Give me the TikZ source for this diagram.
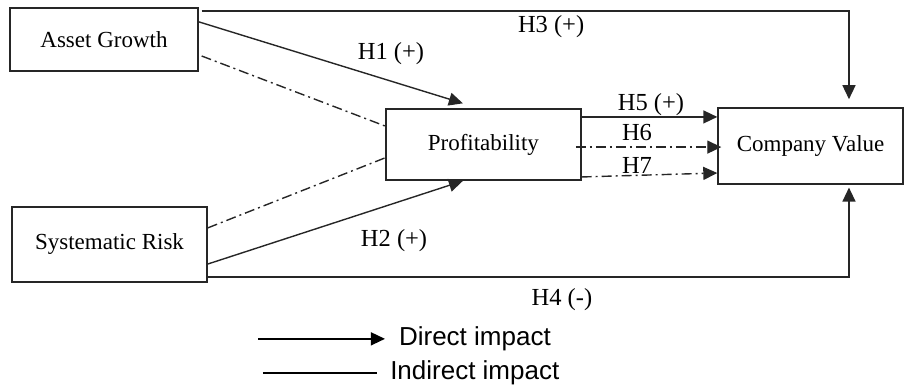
\documentclass[tikz,border=0pt]{standalone}
\usepackage{fontspec}
\setmainfont{Liberation Serif}
\newfontfamily\legfont{Liberation Sans}
\usetikzlibrary{positioning}
\usetikzlibrary{calc}
\usetikzlibrary{arrows.meta}
\tikzset{
    varbox/.style={draw=black!85, line width=1.6pt, inner sep=0pt, font=\fontsize{23}{27}\selectfont},
    link/.style={line width=1.4pt, draw=black!85},
    dashdot/.style={link, dash pattern=on 10pt off 4pt on 2pt off 4pt},
    hyplab/.style={font=\fontsize{24.5}{28}\selectfont, inner sep=1pt},
    legtext/.style={font=\legfont\fontsize{26}{30}\selectfont, inner sep=0pt, anchor=west}
}

\begin{document}
\begin{tikzpicture}[>={Triangle[length=14pt, width=13pt]}]
    \useasboundingbox (0,0) rectangle (32.02,-13.53);

    % Variables
    \node[varbox, minimum width=6.61cm, minimum height=2.21cm] (ag) at (3.655, -1.388) {Asset Growth};
    \node[varbox, minimum width=6.85cm, minimum height=2.64cm] (sr) at (3.85, -8.59) {Systematic Risk};
    \node[varbox, minimum width=6.85cm, minimum height=2.50cm] (prof) at (16.99, -5.08) {Profitability};
    \node[varbox, minimum width=6.50cm, minimum height=2.67cm] (cv) at (28.49, -5.13) {Company Value};

    % Hypothesis labels
    \node[hyplab] (h1) at (13.74, -1.88) {H1 (+)};
    \node[hyplab] (h2) at (13.85, -8.44) {H2 (+)};
    \node[hyplab] (h3) at (19.37, -0.95) {H3 (+)};
    \node[hyplab] (h4) at (19.75, -10.54) {H4 (-)};
    \node[hyplab] (h5) at (22.88, -3.69) {H5 (+)};
    \node[hyplab] (h6) at (22.39, -4.67) {H6};
    \node[hyplab] (h7) at (22.39, -5.83) {H7};

    % Direct paths
    \draw[->, link] ([yshift=0.62cm]ag.east) -- ([xshift=-0.72cm, yshift=0.17cm]prof.north);
    \draw[->, link] ([yshift=-0.69cm]sr.east) -- ([xshift=-0.72cm]prof.south);
    \draw[->, link] ([xshift=0.1cm, yshift=1.0cm]ag.east) -| ([xshift=1.35cm, yshift=0.28cm]cv.north);
    \draw[->, link] ([yshift=-1.14cm]sr.east) -| ([xshift=1.35cm, yshift=-0.1cm]cv.south);
    \draw[->, link] ([yshift=0.97cm]prof.east) coordinate (h5s) -- (h5s -| cv.west);

    % Indirect paths
    \draw[dashdot] ([xshift=0.1cm, yshift=-0.58cm]ag.east) -- ([yshift=0.65cm]prof.west);
    \draw[dashdot] ([yshift=0.58cm]sr.east) -- ([xshift=0.07cm, yshift=-0.44cm]prof.west);
    \draw[->, dashdot] ([xshift=-0.2cm, yshift=-0.09cm]prof.east) coordinate (h6s) -- ([xshift=0.14cm]h6s -| cv.west);
    \draw[->, dashdot] ([yshift=-1.14cm]prof.east) -- ([yshift=-0.95cm]cv.west);

    % Legend
    \node[legtext] (dirtxt) at (14.02, -11.91) {Direct impact};
    \node[legtext] (indtxt) at (13.71, -13.11) {Indirect impact};
    \coordinate (dirA) at (9.07, -11.91);
    \coordinate (indA) at (9.24, -13.11);
    \draw[->, link, black] (dirA) -- ([xshift=-0.49cm]dirtxt.west);
    \draw[link, black] (indA) -- ([xshift=-0.46cm]indtxt.west);
\end{tikzpicture}
\end{document}
